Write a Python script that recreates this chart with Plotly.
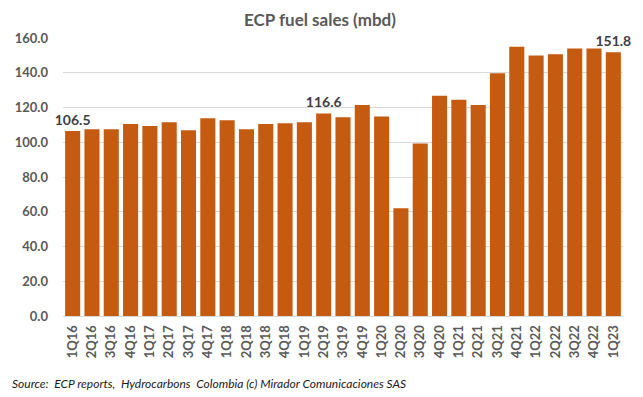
import plotly.graph_objects as go

quarters = ["1Q16","2Q16","3Q16","4Q16","1Q17","2Q17","3Q17","4Q17","1Q18","2Q18",
            "3Q18","4Q18","1Q19","2Q19","3Q19","4Q19","1Q20","2Q20","3Q20","4Q20",
            "1Q21","2Q21","3Q21","4Q21","1Q22","2Q22","3Q22","4Q22","1Q23"]
sales = [106.5,107.5,107.5,110.5,109.4,111.5,106.9,113.8,112.6,107.5,
         110.5,110.9,111.5,116.6,114.4,121.5,114.8,62.0,99.3,126.8,
         124.5,121.5,139.7,155.0,150.0,150.6,153.9,153.9,151.8]
labelled = ["1Q16", "2Q19", "1Q23"]
y_ticks = [0, 20, 40, 60, 80, 100, 120, 140, 160]

texts = [f"{v:.1f}" if q in labelled else "" for q, v in zip(quarters, sales)]

# page body has an 8px default margin, so the figure is made 8px smaller
W, H = 635, 389
L, R, T, B = 55, 20, 30, 81
plot_w, plot_h = W - L - R, H - T - B

fig = go.Figure(go.Bar(
    x=quarters, y=sales, text=texts, textposition="outside", cliponaxis=False,
    constraintext="none",
    marker=dict(color="#C55A11", line=dict(width=0)),
    textfont=dict(family="Lato", size=14, color="#404040", weight="bold"),
))

fig.update_layout(
    width=W, height=H,
    margin=dict(l=L, r=R, t=T, b=B, autoexpand=False),
    paper_bgcolor="white", plot_bgcolor="white",
    bargap=0.22,
    showlegend=False,
    title=dict(text="<b>ECP fuel sales (mbd)</b>", x=312/W, xanchor="center",
               y=1 - 12/H, yanchor="middle",
               font=dict(family="Lato", size=17, color="#595959")),
    font=dict(family="Lato"),
)
fig.update_yaxes(range=[0, 160], tickvals=y_ticks, automargin=False,
                 ticktext=[f"{t:.1f}" for t in y_ticks],
                 showgrid=True, gridcolor="#D9D9D9", gridwidth=1,
                 zeroline=False, showline=False, ticks="", ticklabelstandoff=14,
                 tickfont=dict(family="Lato", size=13, color="#595959", weight="bold"))
fig.update_xaxes(tickangle=-90, showline=True, linecolor="#D9D9D9", linewidth=1,
                 ticks="", showgrid=False, automargin=False, ticklabelstandoff=3,
                 tickfont=dict(family="Lato", size=13, color="#595959", weight="bold"))

fig.add_annotation(text="<i>Source:  ECP reports,  Hydrocarbons  Colombia (c) Mirador Comunicaciones SAS</i>",
                   xref="paper", yref="paper", x=(2 - L)/plot_w, y=-67/plot_h,
                   xanchor="left", yanchor="middle", showarrow=False,
                   font=dict(family="Lato", size=12, color="#1a1a1a"))

fig.write_html("out.html")
